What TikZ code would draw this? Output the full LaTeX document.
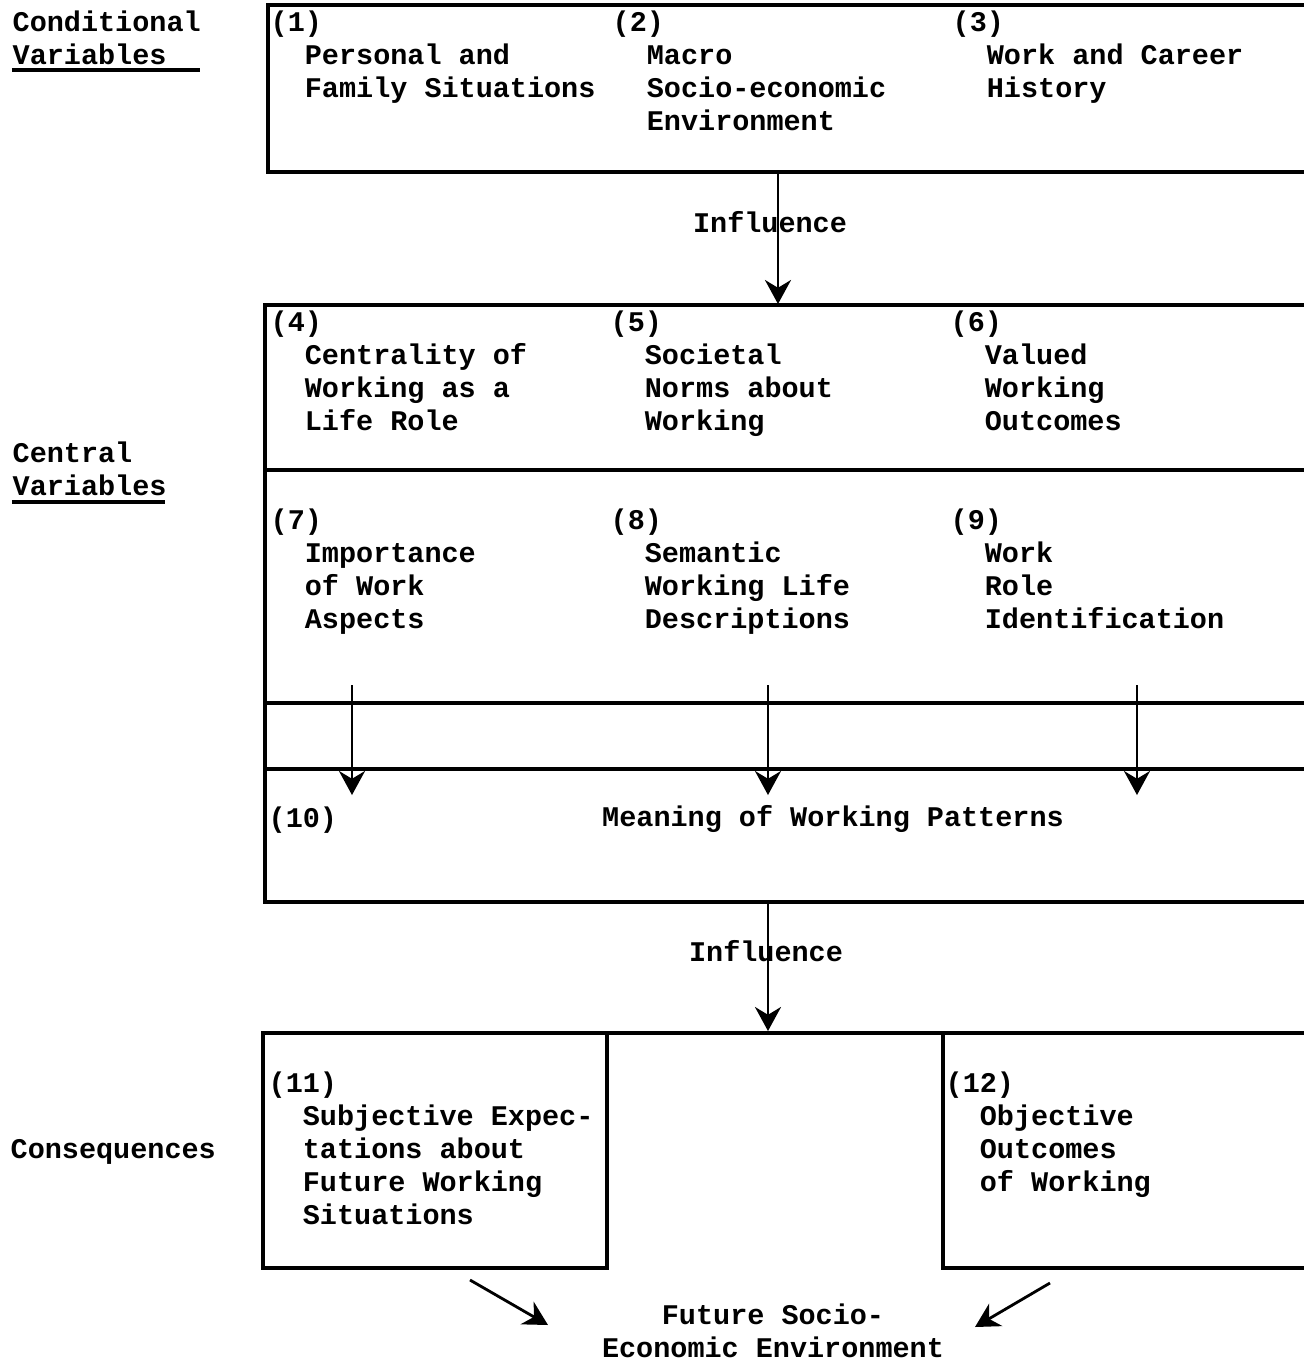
\documentclass[tikz,border=0pt]{standalone}
\usepackage{fontspec}
\setmonofont{Liberation Mono}
\usetikzlibrary{arrows.meta,positioning}
\tikzset{
  >={Stealth[length=2.4mm,width=2.6mm]},
  typed/.style={font=\fontsize{8.1}{9.36}\selectfont\ttfamily\bfseries,inner sep=0pt,align=left},
  item/.style={typed,anchor=north west},
  frame/.style={line width=1.1pt},
  flow/.style={->,line width=0.8pt},
}
\newcommand{\ind}{\phantom{xx}}

\begin{document}
\begin{tikzpicture}[x=0.01cm,y=-0.01cm]
  \useasboundingbox (0,0) rectangle (1304,1362);

  % left-hand headings
  \node[item] (cond) at (12,10) {Conditional\\Variables};
  \draw[line width=0.9pt] (12,70) -- (200,70);
  \node[item] (central) at (12,441) {Central\\Variables};
  \draw[line width=0.9pt] (12,502) -- (165,502);
  \node[typed,anchor=base west] (conseq) at (10,1158) {Consequences};

  % conditional variables
  \draw[frame] (1310,5) -- (268,5) -- (268,172) -- (1310,172);
  \node[item] (v1) at (270,10) {(1)\\\ind Personal and\\\ind Family Situations};
  \node[item] (v2) at (612,10) {(2)\\\ind Macro\\\ind Socio-economic\\\ind Environment};
  \node[item] (v3) at (952,10) {(3)\\\ind Work and Career\\\ind History};

  % central variables
  \draw[frame] (1310,305) -- (265,305) -- (265,902) -- (1310,902);
  \foreach \y in {470,703,769} \draw[frame] (265,\y) -- (1310,\y);
  \node[item] (v4) at (270,310) {(4)\\\ind Centrality of\\\ind Working as a\\\ind Life Role};
  \node[item] (v5) at (610,310) {(5)\\\ind Societal\\\ind Norms about\\\ind Working};
  \node[item] (v6) at (950,310) {(6)\\\ind Valued\\\ind Working\\\ind Outcomes};
  \node[item] (v7) at (270,508) {(7)\\\ind Importance\\\ind of Work\\\ind Aspects};
  \node[item] (v8) at (610,508) {(8)\\\ind Semantic\\\ind Working Life\\\ind Descriptions};
  \node[item] (v9) at (950,508) {(9)\\\ind Work\\\ind Role\\\ind Identification};
  \node[item] (v10) at (268,806) {(10)};
  \node[typed,anchor=base] (mwp) at (833,826) {Meaning of Working Patterns};

  % consequences
  \draw[frame] (1310,1033) -- (263,1033) -- (263,1268) -- (607,1268) -- (607,1033);
  \draw[frame] (943,1033) -- (943,1268) -- (1310,1268);
  \node[item] (v11) at (268,1071) {(11)\\\ind Subjective Expec-\\\ind tations about\\\ind Future Working\\\ind Situations};
  \node[item] (v12) at (945,1071) {(12)\\\ind Objective\\\ind Outcomes\\\ind of Working};
  \node[typed,align=center,anchor=north] (future) at (773,1303) {Future Socio-\\Economic Environment};

  % connectors
  \coordinate (c1) at (778,172);
  \coordinate (c2) at (778,304);
  \node[typed] (inf1) at (770,222) {Influence};
  \draw[flow] (c1) -- (c2);
  \foreach \x/\n in {352/a,768/b,1137/c}{
    \coordinate (s\n) at (\x,685);
    \coordinate (t\n) at (\x,795);
    \draw[flow] (s\n) -- (t\n);
  }
  \coordinate (c3) at (768,904);
  \coordinate (c4) at (768,1031);
  \node[typed] (inf2) at (766,951) {Influence};
  \draw[flow] (c3) -- (c4);
  \coordinate (e11) at (470,1280);
  \coordinate (f11) at (548,1325);
  \coordinate (e12) at (1050,1283);
  \coordinate (f12) at (975,1327);
  \draw[flow] (e11) -- (f11);
  \draw[flow] (e12) -- (f12);
\end{tikzpicture}
\end{document}
